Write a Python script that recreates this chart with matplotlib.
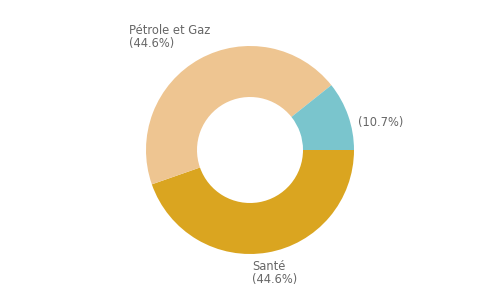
import matplotlib
matplotlib.use("Agg")
import matplotlib.pyplot as plt

categories = ["Santé", "Pétrole et Gaz", ""]
values = [44.6, 44.6, 10.7]
colors = ["#DAA520", "#EEC591", "#7AC5CD"]

fig = plt.figure(figsize=(5, 3), dpi=100)
ax = fig.add_axes([0, 0, 1, 1])
R = 104.0
ax.pie(values, colors=colors, startangle=0, counterclock=False,
       radius=1.0, wedgeprops=dict(width=51 / R, linewidth=0), center=(0, 0))
ax.set_xlim(-250 / R, 250 / R)
ax.set_ylim(-150 / R, 150 / R)
ax.set_aspect("equal")
ax.axis("off")

def lbl(name, v):
    return f"{name}\n({v}%)" if name else f"({v}%)"

# label anchor positions in figure pixels (x from left, y from top)
pos = [(252, 273, "left"), (129, 37, "left"), (358, 122, "left")]
for (name, v), (px, py, ha) in zip(zip(categories, values), pos):
    fig.text(px / 500, 1 - py / 300, lbl(name, v), ha=ha, va="center",
             fontsize=8.3, color="#666666", linespacing=0.98)

fig.savefig("out.png", dpi=100)
